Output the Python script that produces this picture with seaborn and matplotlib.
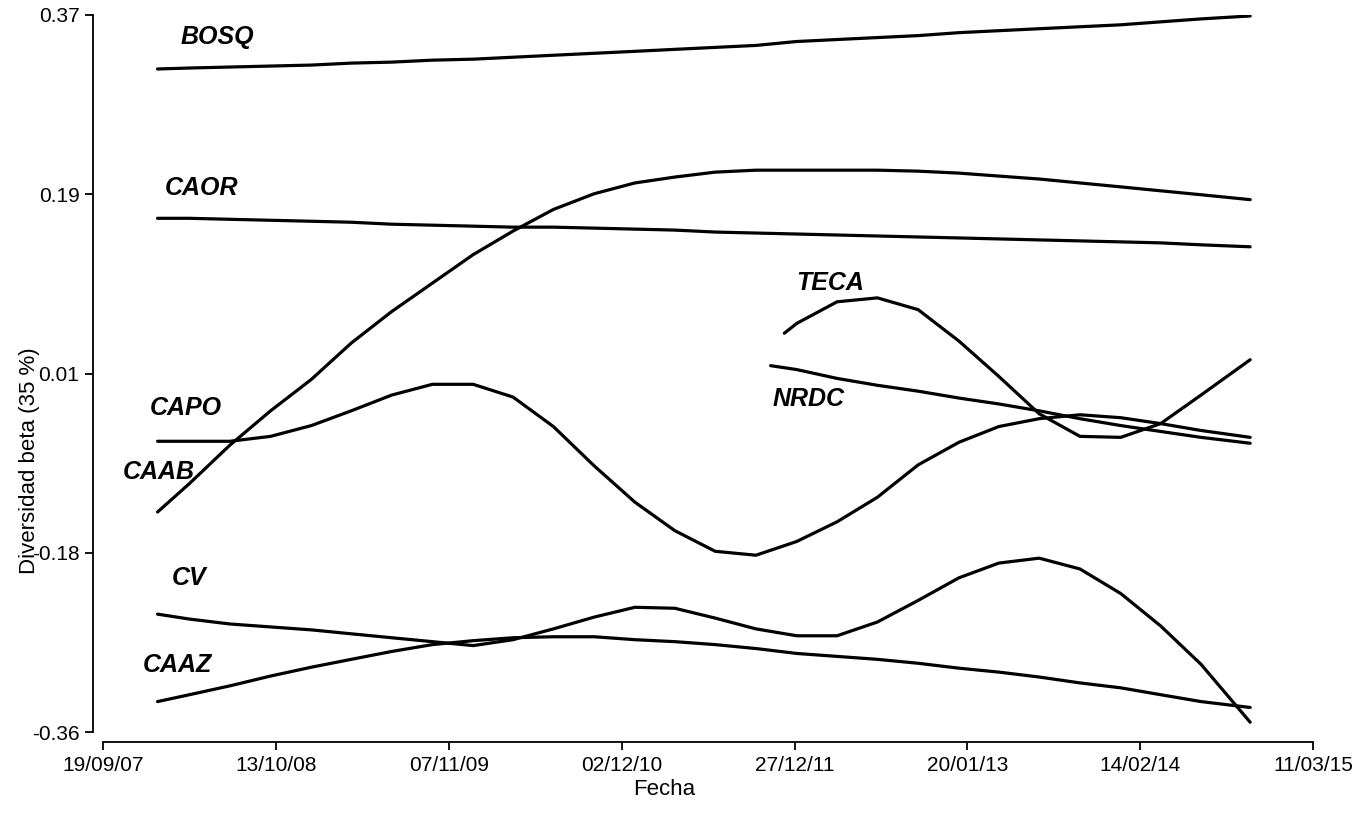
import pandas as pd
import matplotlib
matplotlib.use('Agg')
import matplotlib.pyplot as plt
import seaborn as sns

# fechas trimestrales comunes (series completas)
fechas = ['2008-01-20', '2008-04-01', '2008-07-01', '2008-10-01', '2009-01-01', '2009-04-01',
          '2009-07-01', '2009-10-01', '2010-01-01', '2010-04-01', '2010-07-01', '2010-10-01',
          '2011-01-01', '2011-04-01', '2011-07-01', '2011-10-01', '2012-01-01', '2012-04-01',
          '2012-07-01', '2012-10-01', '2013-01-01', '2013-04-01', '2013-07-01', '2013-10-01',
          '2014-01-01', '2014-04-01', '2014-07-01', '2014-10-20']

bosq = [0.315, 0.316, 0.317, 0.318, 0.319, 0.321, 0.322, 0.324, 0.325, 0.327, 0.329, 0.331,
        0.333, 0.335, 0.337, 0.339, 0.343, 0.345, 0.347, 0.349, 0.352, 0.354, 0.356, 0.358,
        0.360, 0.363, 0.366, 0.369]
caor = [0.163, 0.163, 0.162, 0.161, 0.160, 0.159, 0.157, 0.156, 0.155, 0.154, 0.154, 0.153,
        0.152, 0.151, 0.149, 0.148, 0.147, 0.146, 0.145, 0.144, 0.143, 0.142, 0.141, 0.140,
        0.139, 0.138, 0.136, 0.134]
caab = [-0.136, -0.107, -0.068, -0.033, -0.001, 0.036, 0.068, 0.097, 0.126, 0.150, 0.172, 0.188,
        0.199, 0.205, 0.210, 0.212, 0.212, 0.212, 0.212, 0.211, 0.209, 0.206, 0.203, 0.199,
        0.195, 0.191, 0.187, 0.182]
capo = [-0.064, -0.064, -0.064, -0.059, -0.048, -0.033, -0.017, -0.006, -0.006, -0.019, -0.049, -0.089,
        -0.126, -0.155, -0.176, -0.180, -0.166, -0.146, -0.121, -0.088, -0.065, -0.049, -0.041, -0.037,
        -0.040, -0.046, -0.053, -0.060]
cv = [-0.240, -0.245, -0.250, -0.253, -0.256, -0.260, -0.264, -0.268, -0.272, -0.266, -0.255, -0.243,
      -0.233, -0.234, -0.244, -0.255, -0.262, -0.262, -0.248, -0.226, -0.203, -0.188, -0.183, -0.194,
      -0.219, -0.252, -0.291, -0.350]
caaz = [-0.329, -0.322, -0.313, -0.303, -0.294, -0.286, -0.278, -0.271, -0.267, -0.264, -0.263, -0.263,
        -0.266, -0.268, -0.271, -0.275, -0.280, -0.283, -0.286, -0.290, -0.295, -0.299, -0.304, -0.310,
        -0.315, -0.322, -0.329, -0.335]

# TECA y NRDC empiezan a finales de 2011
fechas_teca = ['2011-12-04', '2012-01-01', '2012-04-01', '2012-07-01', '2012-10-01', '2013-01-01',
               '2013-04-01', '2013-07-01', '2013-10-01', '2014-01-01', '2014-04-01', '2014-07-01',
               '2014-10-20']
teca = [0.046, 0.056, 0.078, 0.082, 0.070, 0.038, 0.002, -0.036, -0.059, -0.060, -0.046, -0.017, 0.019]

fechas_nrdc = ['2011-11-03', '2012-01-01', '2012-04-01', '2012-07-01', '2012-10-01', '2013-01-01',
               '2013-04-01', '2013-07-01', '2013-10-01', '2014-01-01', '2014-04-01', '2014-07-01',
               '2014-10-20']
nrdc = [0.013, 0.009, 0.000, -0.007, -0.013, -0.020, -0.026, -0.033, -0.041, -0.048, -0.054, -0.060, -0.066]

# etiquetas de cada serie: (nombre, fecha, valor)
etiquetas = [('BOSQ', '2008-03-11', 0.348), ('CAOR', '2008-02-06', 0.194),
             ('TECA', '2012-01-01', 0.097), ('NRDC', '2011-11-07', -0.021),
             ('CAPO', '2008-01-03', -0.030), ('CAAB', '2007-11-03', -0.095),
             ('CV', '2008-02-22', -0.203), ('CAAZ', '2007-12-18', -0.292)]

xticks = ['2007-09-19', '2008-10-13', '2009-11-07', '2010-12-02', '2011-12-27',
          '2013-01-20', '2014-02-14', '2015-03-11']
yticks = [-0.36, -0.1775, 0.005, 0.1875, 0.37]
ytick_labels = ['-0.36', '-0.18', '0.01', '0.19', '0.37']

sns.set_style('ticks')
plt.rcParams['font.family'] = ['Liberation Sans', 'DejaVu Sans']
plt.rcParams['text.color'] = 'black'
plt.rcParams['axes.labelcolor'] = 'black'

fig = plt.figure(figsize=(13.54, 8.14), dpi=100)
ax = fig.add_axes([0.0761, 0.1007, 0.8937, 0.8809])

series = [(fechas, bosq), (fechas, caor), (fechas, caab), (fechas, capo),
          (fechas, cv), (fechas, caaz), (fechas_teca, teca), (fechas_nrdc, nrdc)]
for f, vals in series:
    sns.lineplot(x=pd.to_datetime(f), y=vals, color='black', linewidth=2.3, ax=ax)

for nombre, f, v in etiquetas:
    ax.text(pd.Timestamp(f), v, nombre, fontsize=18, fontweight='bold', style='italic',
            va='center', ha='left', color='black')

xt = pd.to_datetime(xticks)
ax.set_xlim(xt[0], xt[-1])
ax.set_ylim(-0.36, 0.37)
ax.set_xticks(xt)
ax.set_xticklabels([d.strftime('%d/%m/%y') for d in xt])
ax.set_yticks(yticks)
ax.set_yticklabels(ytick_labels)
ax.tick_params(labelsize=15, width=1.3, length=6, color='black', labelcolor='black')

ax.set_xlabel('Fecha', fontsize=16)
ax.set_ylabel('Diversidad beta (35 %)', fontsize=16)
ax.xaxis.set_label_coords(0.464, -0.066)
ax.yaxis.set_label_coords(-0.052, 0.379)

sns.despine(ax=ax, offset=7.5, trim=True)
for s in ['left', 'bottom']:
    ax.spines[s].set_linewidth(1.3)
    ax.spines[s].set_color('black')

fig.savefig('out.png', dpi=100)
